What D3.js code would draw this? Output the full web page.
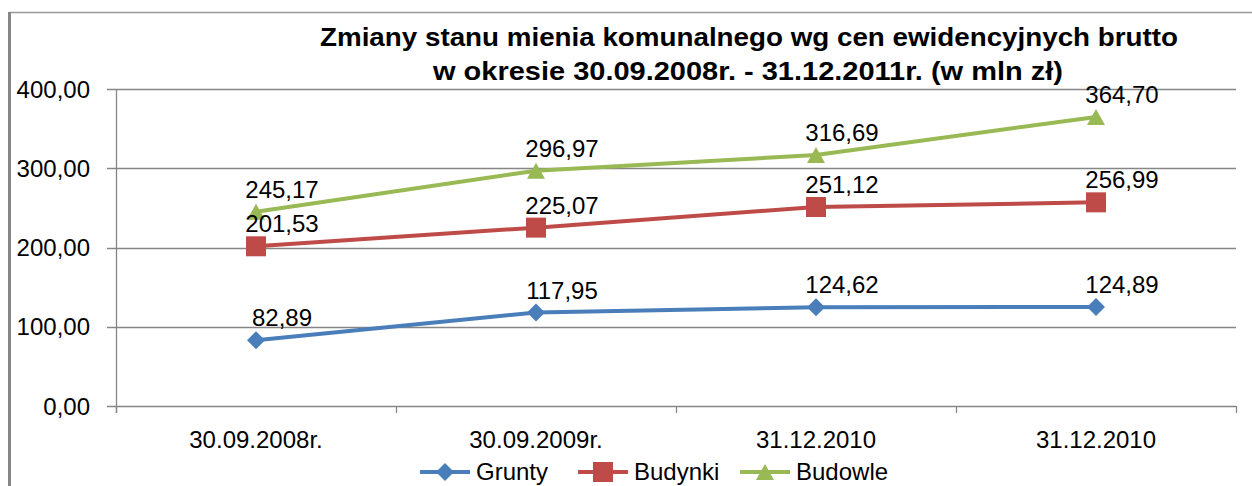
<!DOCTYPE html>
<html><head><meta charset="utf-8">
<script src="https://cdn.jsdelivr.net/npm/d3@7"></script>
<style>body{margin:0;background:#fff}svg{display:block}</style>
</head><body>
<script>
const categories = ["30.09.2008r.", "30.09.2009r.", "31.12.2010", "31.12.2010"];
const grunty  = [82.89, 117.95, 124.62, 124.89];
const budynki = [201.53, 225.07, 251.12, 256.99];
const budowle = [245.17, 296.97, 316.69, 364.70];
const yTicks  = [0, 100, 200, 300, 400];
const seriesNames = ["Grunty", "Budynki", "Budowle"];
const titleLines = ["Zmiany stanu mienia  komunalnego  wg cen ewidencyjnych brutto",
                    "w okresie 30.09.2008r. - 31.12.2011r. (w mln zł)"];

(function () {
const series = [
  {name: seriesNames[0], values: grunty,  color: "#4a7ebb", marker: "diamond"},
  {name: seriesNames[1], values: budynki, color: "#be4b48", marker: "square"},
  {name: seriesNames[2], values: budowle, color: "#98b954", marker: "triangle"}
];

const W = 1252, H = 486;
const fontFam = "'Liberation Sans', Arial, sans-serif";
const svg = d3.select("body").append("svg").attr("width", W).attr("height", H);

// frame
svg.append("line").attr("x1", 9.5).attr("x2", W).attr("y1", 12.5).attr("y2", 12.5)
  .attr("stroke", "#9a9a9a").attr("stroke-width", 1.5);
svg.append("line").attr("x1", 9.5).attr("x2", 9.5).attr("y1", 12).attr("y2", H)
  .attr("stroke", "#868686").attr("stroke-width", 3);

const pL = 116, pR = 1236, pT = 89, pB = 406;
const x = d3.scaleBand().domain(d3.range(categories.length)).range([pL, pR]);
const y = d3.scaleLinear().domain([0, 400]).range([pB, pT]);
const fmt = v => d3.format(".2f")(v).replace(".", ",");

// gridlines
svg.append("g").selectAll("line").data(yTicks).join("line")
  .attr("x1", pL - 9).attr("x2", pR)
  .attr("y1", d => Math.round(y(d)) + 0.5).attr("y2", d => Math.round(y(d)) + 0.5)
  .attr("stroke", "#868686").attr("stroke-width", 1.3);

// y axis line
svg.append("line").attr("x1", pL + 0.5).attr("x2", pL + 0.5).attr("y1", pT).attr("y2", pB + 7)
  .attr("stroke", "#868686").attr("stroke-width", 1.3);

// x ticks at boundaries
const bounds = d3.range(categories.length + 1).map(i => pL + i * x.bandwidth());
svg.append("g").selectAll("line").data(bounds).join("line")
  .attr("x1", d => Math.round(d) + 0.5).attr("x2", d => Math.round(d) + 0.5)
  .attr("y1", pB).attr("y2", pB + 7)
  .attr("stroke", "#868686").attr("stroke-width", 1.3);

// y labels
svg.append("g").selectAll("text").data(yTicks).join("text")
  .attr("x", 90).attr("y", d => y(d)).attr("dy", "0.36em")
  .attr("text-anchor", "end").attr("font-family", fontFam).attr("font-size", 24)
  .attr("fill", "#000").text(d => fmt(d));

// x labels
svg.append("g").selectAll("text").data(categories).join("text")
  .attr("x", (d, i) => x(i) + x.bandwidth() / 2).attr("y", 448)
  .attr("text-anchor", "middle").attr("font-family", fontFam).attr("font-size", 24)
  .attr("fill", "#000").text(d => d);

// title
svg.append("text").attr("x", 749).attr("y", 46).attr("text-anchor", "middle")
  .attr("font-family", fontFam).attr("font-weight", "bold").attr("font-size", 25)
  .attr("textLength", 858).attr("lengthAdjust", "spacingAndGlyphs").text(titleLines[0]);
svg.append("text").attr("x", 748).attr("y", 80).attr("text-anchor", "middle")
  .attr("font-family", fontFam).attr("font-weight", "bold").attr("font-size", 25)
  .attr("textLength", 630).attr("lengthAdjust", "spacingAndGlyphs").text(titleLines[1]);

function markerPath(type) {
  if (type === "diamond") return "M0,-9L9,0L0,9L-9,0Z";
  if (type === "square") return "M-10,-10H10V10H-10Z";
  return "M0,-8L9,8H-9Z";
}

const line = d3.line().x((d, i) => x(i) + x.bandwidth() / 2).y(d => y(d));

series.forEach(s => {
  const g = svg.append("g");
  g.append("path").attr("d", line(s.values)).attr("fill", "none")
    .attr("stroke", s.color).attr("stroke-width", 4).attr("stroke-linejoin", "round");
  g.selectAll("path.m").data(s.values).join("path").attr("class", "m")
    .attr("transform", (d, i) => `translate(${x(i) + x.bandwidth() / 2},${y(d)})`)
    .attr("d", markerPath(s.marker)).attr("fill", s.color);
});

// data labels
series.forEach(s => {
  svg.append("g").selectAll("text").data(s.values).join("text")
    .attr("x", (d, i) => x(i) + x.bandwidth() / 2 + 26).attr("y", d => y(d) - 14)
    .attr("text-anchor", "middle").attr("font-family", fontFam).attr("font-size", 24)
    .attr("fill", "#000").text(d => fmt(d));
});

// legend
const legX = [420, 578, 740];
const lg = svg.append("g");
series.forEach((s, i) => {
  const gx = legX[i];
  lg.append("line").attr("x1", gx).attr("x2", gx + 50).attr("y1", 472).attr("y2", 472)
    .attr("stroke", s.color).attr("stroke-width", 4);
  lg.append("path").attr("transform", `translate(${gx + 25},472)`).attr("d", markerPath(s.marker))
    .attr("fill", s.color);
  lg.append("text").attr("x", gx + 56).attr("y", 480).attr("font-family", fontFam)
    .attr("font-size", 24).attr("fill", "#000").text(s.name);
});
})();
</script>
</body></html>
